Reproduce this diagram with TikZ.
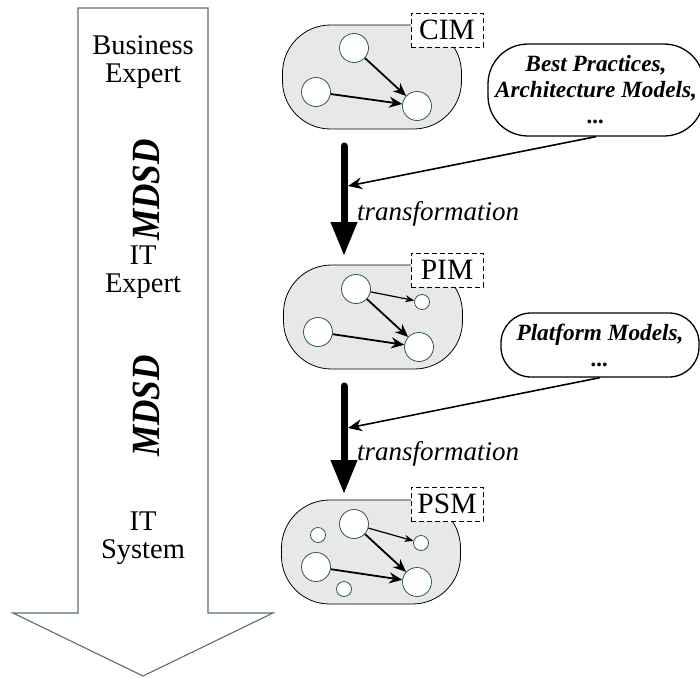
\documentclass[tikz,border=0pt]{standalone}
\usepackage{fontspec}
\setmainfont{Liberation Serif}
\usetikzlibrary{arrows.meta}
\definecolor{arrgreen}{RGB}{85,115,95}
\definecolor{circgreen}{RGB}{45,95,55}
\definecolor{blobgray}{RGB}{232,232,232}
\tikzset{
  bigarrow/.style={draw=arrgreen, line width=1.1pt, fill=white},
  sidetext/.style={align=center, font=\fontsize{28.5}{28}\selectfont, inner sep=0pt},
  mdsd/.style={rotate=90, inner sep=0pt, font=\fontsize{40}{40}\selectfont\bfseries\itshape},
  blob/.style={draw=black, line width=0.8pt, fill=blobgray, rounded corners=48pt, minimum width=179pt, minimum height=104pt, inner sep=0pt},
  circ/.style={circle, draw=circgreen, line width=0.8pt, fill=white, minimum size=29pt, inner sep=0pt},
  scirc/.style={circle, draw=circgreen, line width=0.8pt, fill=white, minimum size=15pt, inner sep=0pt},
  thickedge/.style={draw=black, line width=1.8pt, -{Stealth[length=13pt,width=11pt]}},
  thinedge/.style={draw=black, line width=1.2pt, -{Stealth[length=9pt,width=7pt]}},
  lbl/.style={draw=black, dashed, dash pattern=on 5pt off 3pt, line width=0.8pt, fill=white, minimum width=72pt, minimum height=34pt, inner sep=0pt, font=\fontsize{29.5}{29}\selectfont},
  callout/.style={draw=black, line width=1.3pt, fill=white, align=center, inner sep=0pt, font=\fontsize{23.3}{26}\selectfont\bfseries\itshape},
  transarrow/.style={draw=black, line width=7pt, line cap=round, -{Triangle[length=34pt,width=25pt]}},
  calloutedge/.style={draw=black, line width=1.6pt, -{Stealth[length=14pt,width=12pt]}},
  translabel/.style={anchor=base west, inner sep=0pt, font=\fontsize{27}{27}\selectfont\itshape}
}
\begin{document}
\begin{tikzpicture}[x=1pt,y=-1pt]
\useasboundingbox (0,0) rectangle (700,677);
% big left arrow
\draw[bigarrow] (78,8) -- (208,8) -- (208,613) -- (273,613) -- (143,676) -- (13,613) -- (78,613) -- cycle;
\node[sidetext] (be) at (143,62) {Business\\Expert};
\node[mdsd] (md1) at (146,190) {\scalebox{0.88}[1]{MDSD}};
\node[sidetext] (ie) at (143,272) {IT\\Expert};
\node[mdsd] (md2) at (146,406) {\scalebox{0.88}[1]{MDSD}};
\node[sidetext] (is) at (143,538) {IT\\System};

% CIM
\node[blob] (cim) at (372,77) {};
\node[lbl] (cimlbl) at (447,30) {CIM};
\node[circ] (c1) at (354,48) {};
\node[circ] (c2) at (316,92) {};
\node[circ] (c3) at (417,106) {};
\draw[thickedge] (c1) -- (c3);
\draw[thickedge] (c2) -- (c3);

% PIM
\node[blob] (pim) at (373,317) {};
\node[lbl] (pimlbl) at (447,270) {PIM};
\node[circ] (p1) at (356,289) {};
\node[scirc] (p4) at (422,302) {};
\node[circ] (p2) at (318,332) {};
\node[circ] (p3) at (419,347) {};
\draw[thinedge] (p1) -- (p4);
\draw[thickedge] (p1) -- (p3);
\draw[thickedge] (p2) -- (p3);

% PSM
\node[blob] (psm) at (371,552) {};
\node[lbl] (psmlbl) at (447,504) {PSM};
\node[circ] (s1) at (354,524) {};
\node[scirc] (s4) at (421,543) {};
\node[circ] (s2) at (316,567) {};
\node[circ] (s3) at (417,582) {};
\node[scirc] (s5) at (318,535) {};
\node[scirc] (s6) at (344,589) {};
\draw[thinedge] (s1) -- (s4);
\draw[thickedge] (s1) -- (s3);
\draw[thickedge] (s2) -- (s3);

% transformation arrows
\coordinate (t1s) at (344,146);
\coordinate (t1e) at (344,256);
\coordinate (t2s) at (344,386);
\coordinate (t2e) at (344,494);
\draw[transarrow] (t1s) -- (t1e);
\draw[transarrow] (t2s) -- (t2e);
\node[translabel] (tl1) at (357,220) {transformation};
\node[translabel] (tl2) at (357,460) {transformation};

% callouts
\node[callout, minimum width=216pt, minimum height=92pt, rounded corners=40pt] (bp) at (596,90) {Best Practices,\\Architecture Models,\\...};
\node[callout, minimum width=198pt, minimum height=64pt, rounded corners=30pt] (pm) at (600,345) {Platform Models,\\...};
\coordinate (m1) at (348,186);
\coordinate (m2) at (348,428);
\draw[calloutedge] (bp.south) -- (m1);
\draw[calloutedge] (pm.south) -- (m2);
\end{tikzpicture}
\end{document}
